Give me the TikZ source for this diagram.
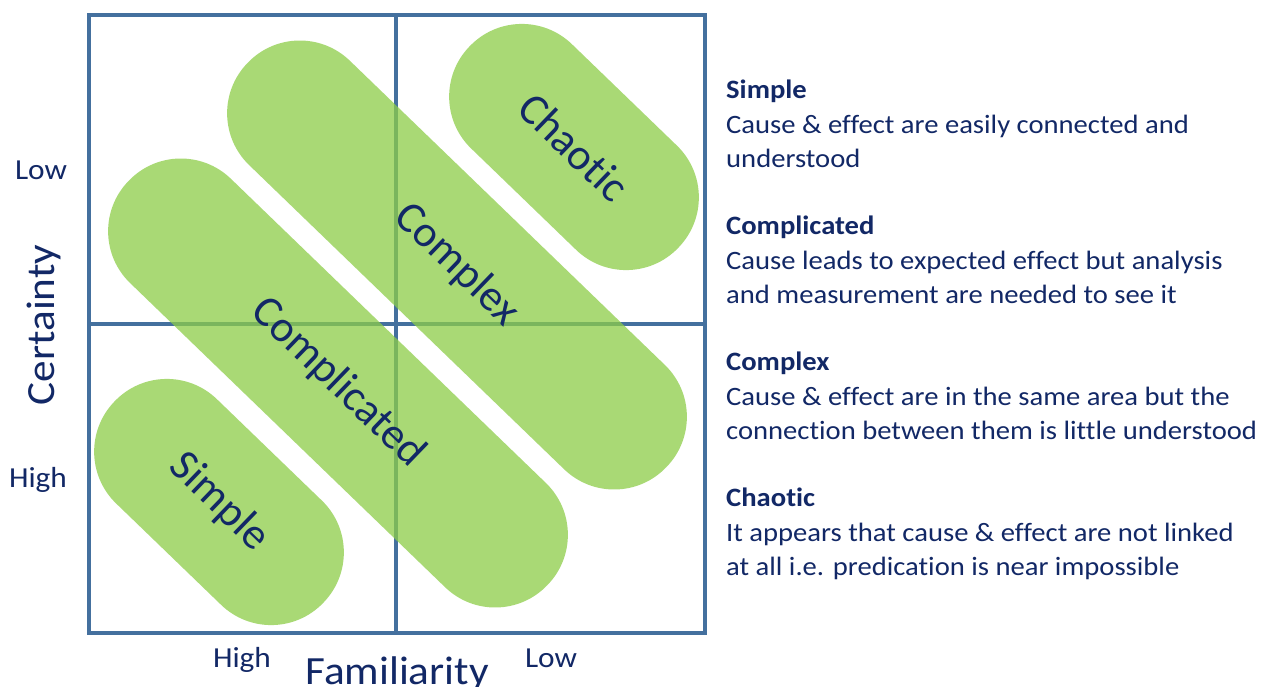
\documentclass[tikz,border=0pt]{standalone}
\usepackage{fontspec}
\setmainfont{Carlito}[Ligatures=NoCommon]
\newfontfamily\wideface{Carlito}[FakeStretch=1.08, Ligatures=NoCommon]
\usepackage{tikz}
\usetikzlibrary{positioning}

\definecolor{gridblue}{RGB}{68,112,158}
\definecolor{leafgreen}{RGB}{141,205,72}
\definecolor{inkblue}{RGB}{18,40,102}

\begin{document}
\begin{tikzpicture}[
                x=1pt, y=-1pt,                % 像素坐标
                every node/.style={
                    inner sep=0pt,
                    text=inkblue
                },
                gridline/.style={draw=gridblue, line width=4.5pt},
                capsule/.style={
                    rectangle,
                    rounded corners=72pt,
                    fill=leafgreen, fill opacity=.75, text opacity=1,
                    minimum height=145pt,
                    rotate=-44,
                    font=\fontsize{44}{52}\selectfont
                },
                axislabel/.style={font=\wideface\fontsize{29}{34}\selectfont},
                bigaxis/.style={font=\wideface\fontsize{40}{48}\selectfont},
                desc/.style={align=left, font=\wideface\fontsize{26.5}{34.5}\selectfont}
            ]
                \path[use as bounding box, fill=white] (0,0) rectangle (1261,686);

                % 网格
                \draw[gridline] (89,15) rectangle (705,633);
                \draw[gridline] (396,15) -- (396,633);
                \draw[gridline] (89,324) -- (705,324);

                % 区域
                \node[capsule, minimum width=290pt] (chaotic) at (574,147) {Chaotic};
                \node[capsule, minimum width=582pt] (complex) at (457,265) {Complex};
                \node[capsule, minimum width=582pt] (complicated) at (338,383) {Complicated};
                \node[capsule, minimum width=290pt] (simple) at (219,502) {Simple};

                % 坐标轴
                \node[axislabel, anchor=base] (ylow) at (41,179) {Low};
                \node[axislabel, anchor=base] (yhigh) at (38,487) {High};
                \node[axislabel, anchor=base] (xhigh) at (242,667) {High};
                \node[axislabel, anchor=base] (xlow) at (551,667) {Low};
                \node[bigaxis, rotate=90, anchor=base] (certainty) at (54,325) {Certainty};
                \node[bigaxis, anchor=base] (familiarity) at (397,684) {Familiarity};

                % 说明
                \node[desc, anchor=north west] (simpledesc) at (726,80)
                    {\textbf{Simple}\\Cause \& effect are easily connected and\\understood};
                \node[desc, below=136pt of simpledesc.north west, anchor=north west] (complicateddesc)
                    {\textbf{Complicated}\\Cause leads to expected effect but analysis\\and measurement are needed to see it};
                \node[desc, below=136pt of complicateddesc.north west, anchor=north west] (complexdesc)
                    {\textbf{Complex}\\Cause \& effect are in the same area but the\\connection between them is little understood};
                \node[desc, below=136pt of complexdesc.north west, anchor=north west] (chaoticdesc)
                    {\textbf{Chaotic}\\It appears that cause \& effect are not linked\\at all i.e. predication is near impossible};
            \end{tikzpicture}
\end{document}
